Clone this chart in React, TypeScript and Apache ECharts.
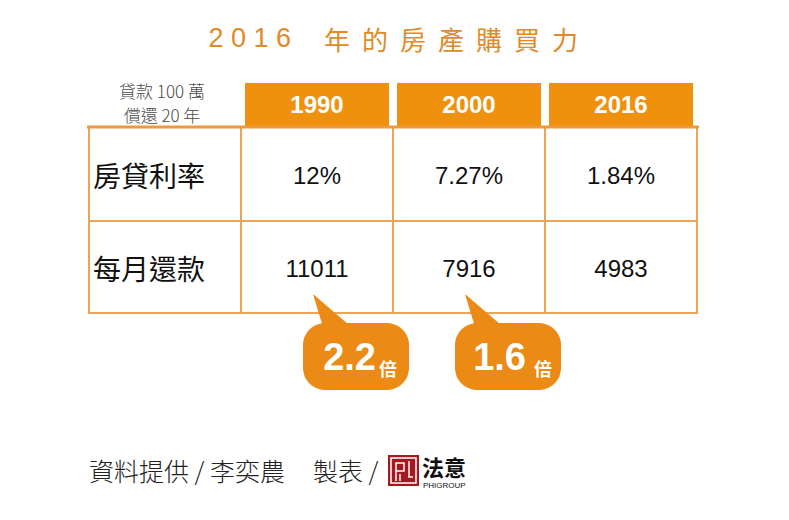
import React, { useEffect, useRef } from "react";
import * as echarts from "echarts";

const titleText = "2016年的房產購買力";
const years = ["1990", "2000", "2016"];
const cornerLines = ["貸款 100 萬", "償還 20 年"];
const rowLabels = ["房貸利率", "每月還款"];
const interestRates = ["12%", "7.27%", "1.84%"];
const monthlyPayments = ["11011", "7916", "4983"];
const multiples = ["2.2", "1.6"];
const multipleUnit = "倍";
const creditSource = "資料提供 / 李奕農";
const creditMaker = "製表 /";
const logoName = "法意";
const logoSub = "PHIGROUP";

const ORANGE = "#f0910e";
const BUBBLE = "#eb8a14";
const LINE = "#eba458";
const TITLE = "#e08a2a";
const CJK = '"Noto Sans CJK TC", "Noto Sans CJK SC", sans-serif';
const LAT = '"Liberation Sans", Arial, sans-serif';

export default function App() {
  const ref = useRef<HTMLDivElement>(null);
  useEffect(() => {
    if (!ref.current) return;
    const chart = echarts.init(ref.current, null, { renderer: "svg" });
    const els: any[] = [];

    // title
    let digitIdx = 0;
    let cjkIdx = 0;
    for (const ch of titleText) {
      const isDigit = /[0-9]/.test(ch);
      const x = isDigit ? 216 + digitIdx++ * 22.5 : 337 + cjkIdx++ * 38;
      els.push({
        type: "text",
        x,
        y: 38,
        style: {
          text: ch,
          fill: TITLE,
          font: `normal ${isDigit ? 27 : 26}px ${isDigit ? LAT : CJK}`,
          textAlign: "center",
          textVerticalAlign: "middle",
        },
      });
    }

    const tableLeft = 89;
    const colW = 152;
    const tableTop = 127;
    const rowBounds = [127, 221, 313];
    const colStart = (i: number) => tableLeft + i * colW;
    const tableRight = colStart(4);

    // corner text
    cornerLines.forEach((t, i) => {
      els.push({
        type: "text",
        x: 162,
        y: 90 + i * 24,
        style: {
          text: t,
          fill: "#4a4a4a",
          font: `300 17px ${CJK}`,
          textAlign: "center",
          textVerticalAlign: "middle",
        },
      });
    });

    // header boxes
    years.forEach((y, i) => {
      const x0 = colStart(i + 1) + 4;
      els.push({
        type: "rect",
        shape: { x: x0, y: 83, width: 144, height: 43 },
        style: { fill: ORANGE },
      });
      els.push({
        type: "text",
        x: x0 + 72,
        y: 104,
        style: {
          text: y,
          fill: "#ffffff",
          font: `bold 24px ${LAT}`,
          textAlign: "center",
          textVerticalAlign: "middle",
        },
      });
    });

    // grid lines
    for (let i = 0; i <= 4; i++) {
      els.push({
        type: "line",
        shape: { x1: colStart(i), y1: tableTop, x2: colStart(i), y2: rowBounds[2] },
        style: { stroke: LINE, lineWidth: 2 },
      });
    }
    [rowBounds[1], rowBounds[2]].forEach((yy) => {
      els.push({
        type: "line",
        shape: { x1: tableLeft - 1, y1: yy, x2: tableRight + 1, y2: yy },
        style: { stroke: LINE, lineWidth: 2 },
      });
    });
    els.push({
      type: "line",
      shape: { x1: tableLeft - 2, y1: tableTop, x2: tableRight + 2, y2: tableTop },
      style: { stroke: "#ee9a3c", lineWidth: 3 },
    });

    // row labels and values
    const rows = [interestRates, monthlyPayments];
    rowLabels.forEach((lab, r) => {
      const cy = (rowBounds[r] + rowBounds[r + 1]) / 2 + 1;
      els.push({
        type: "text",
        x: 93,
        y: cy,
        style: {
          text: lab,
          fill: "#111",
          font: `normal 28px ${CJK}`,
          textAlign: "left",
          textVerticalAlign: "middle",
        },
      });
      rows[r].forEach((v, c) => {
        els.push({
          type: "text",
          x: colStart(c + 1) + colW / 2,
          y: cy,
          style: {
            text: v,
            fill: "#111",
            font: `normal 24px ${LAT}`,
            textAlign: "center",
            textVerticalAlign: "middle",
          },
        });
      });
    });

    // callout bubbles
    multiples.forEach((m, i) => {
      const c0 = colStart(i + 1);
      const bx = c0 + 62;
      els.push({
        type: "polygon",
        shape: {
          points: [
            [c0 + 72, 294],
            [c0 + 108, 325],
            [c0 + 82, 327],
          ],
        },
        style: { fill: BUBBLE },
      });
      els.push({
        type: "rect",
        shape: { x: bx, y: 323, width: 106, height: 67, r: 22 },
        style: { fill: BUBBLE },
      });
      const numRight = bx + (i === 0 ? 73 : 71);
      els.push({
        type: "text",
        x: numRight,
        y: 357,
        style: {
          text: m,
          fill: "#fff",
          font: `bold 38px ${LAT}`,
          textAlign: "right",
          textVerticalAlign: "middle",
        },
      });
      els.push({
        type: "text",
        x: numRight + (i === 0 ? 3 : 8),
        y: 368,
        style: {
          text: multipleUnit,
          fill: "#fff",
          font: `bold 18px ${CJK}`,
          textAlign: "left",
          textVerticalAlign: "middle",
        },
      });
    });

    // credits
    els.push({
      type: "text",
      x: 89,
      y: 470,
      style: {
        text: creditSource,
        fill: "#222",
        font: `300 25px ${CJK}`,
        textAlign: "left",
        textVerticalAlign: "middle",
      },
    });
    els.push({
      type: "text",
      x: 313,
      y: 470,
      style: {
        text: creditMaker,
        fill: "#222",
        font: `300 25px ${CJK}`,
        textAlign: "left",
        textVerticalAlign: "middle",
      },
    });

    // logo
    const lx = 388;
    const ly = 455;
    const RED = "#a3191f";
    els.push({ type: "rect", shape: { x: lx, y: ly, width: 31, height: 31 }, style: { fill: RED } });
    els.push({
      type: "rect",
      shape: { x: lx + 3, y: ly + 3, width: 25, height: 25 },
      style: { fill: "none", stroke: "#fff", lineWidth: 1.5 },
    });
    els.push({
      type: "polyline",
      shape: { points: [[lx + 8, ly + 26], [lx + 8, ly + 8], [lx + 16, ly + 8], [lx + 16, ly + 16], [lx + 8, ly + 16]] },
      style: { fill: "none", stroke: "#fff", lineWidth: 1.5 },
    });
    els.push({
      type: "polyline",
      shape: { points: [[lx + 12, ly + 19], [lx + 12, ly + 26]] },
      style: { fill: "none", stroke: "#fff", lineWidth: 1.5 },
    });
    els.push({
      type: "polyline",
      shape: { points: [[lx + 21, ly + 6], [lx + 21, ly + 22], [lx + 25, ly + 22]] },
      style: { fill: "none", stroke: "#fff", lineWidth: 1.5 },
    });
    els.push({
      type: "text",
      x: 422,
      y: 466,
      style: {
        text: logoName,
        fill: "#111",
        font: `bold 22px ${CJK}`,
        textAlign: "left",
        textVerticalAlign: "middle",
      },
    });
    els.push({
      type: "text",
      x: 423,
      y: 485,
      style: {
        text: logoSub,
        fill: "#111",
        font: `normal 8px ${LAT}`,
        textAlign: "left",
        textVerticalAlign: "middle",
      },
    });

    chart.setOption({
      animation: false,
      backgroundColor: "#ffffff",
      graphic: { elements: els },
    });
    return () => chart.dispose();
  }, []);

  return (
    <div
      ref={ref}
      style={{ position: "fixed", left: 0, top: 0, width: 789, height: 520, background: "#fff" }}
    />
  );
}
